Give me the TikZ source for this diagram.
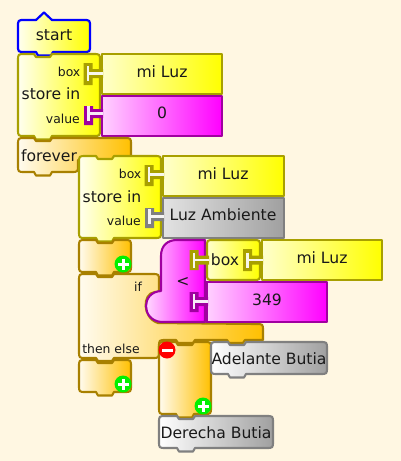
\documentclass[tikz,border=0pt]{standalone}
\usepackage{fontspec}
\setmainfont{DejaVu Sans}
\definecolor{bgc}{HTML}{FFF7E2}
\definecolor{oliv}{HTML}{A8A000}
\definecolor{brwn}{HTML}{A88000}
\definecolor{purp}{HTML}{A000A0}
\definecolor{gry}{HTML}{808080}
\definecolor{orng}{HTML}{FFC000}
\definecolor{magn}{HTML}{FF00FF}
\definecolor{yell}{HTML}{FFFF00}
\definecolor{gryf}{HTML}{A0A0A0}
\definecolor{grnn}{HTML}{00F000}
\tikzset{
  yblock/.style={left color=yell!6!white,right color=yell,draw=oliv,line width=2.1pt,line join=round},
  yval/.style={left color=yell!20!white,right color=yell,draw=oliv,line width=2.1pt,line join=round},
  oblock/.style={left color=orng!6!white,right color=orng,draw=brwn,line width=2.1pt,line join=round},
  mblock/.style={left color=magn!8!white,right color=magn,draw=purp,line width=2.1pt,line join=round},
  mval/.style={left color=magn!18!white,right color=magn,draw=purp,line width=2.1pt,line join=round},
  gblock/.style={left color=white,right color=gryf,draw=gry,line width=2.1pt,line join=round},
  gval/.style={left color=gryf!30!white,right color=gryf,draw=gry,line width=2.1pt,line join=round},
  sblock/.style={left color=yell!6!white,right color=yell,draw=blue,line width=2.2pt,line join=round},
  lab/.style={inner sep=0pt,font=\fontsize{15.6}{17}\selectfont,text=black!90},
  small/.style={inner sep=0pt,font=\fontsize{12.4}{14}\selectfont,text=black!90},
}
% rounded box with top notch and bottom tab; #2 left #3 top #4 right #5 bottom #6 notch start
\newcommand{\tabblock}[6]{%
  \path[#1] ({#6},#3) -- ({#6+2},{#3+3}) -- ({#6+16},{#3+3}) -- ({#6+18},#3)
    -- ({#4-7},#3) .. controls (#4,#3) .. (#4,{#3+7})
    -- (#4,{#5-7}) .. controls (#4,#5) .. ({#4-7},#5)
    -- ({#6+18},#5) -- ({#6+16},{#5+3.5}) -- ({#6+2},{#5+3.5}) -- ({#6},#5)
    -- ({#2+7},#5) .. controls (#2,#5) .. (#2,{#5-7})
    -- (#2,{#3+7}) .. controls (#2,#3) .. ({#2+7},#3) -- cycle;}
% socket: #1 dark colour, #2 left of dark, #3 top, #4 bottom, #5 centre y, #6 stem end
\newcommand{\socket}[6]{%
  \fill[#1] (#2,#3) -- ({#2+9},#3) -- ({#2+9},{#5-4.5}) -- (#6,{#5-4.5}) -- (#6,{#5+4.5})
    -- ({#2+9},{#5+4.5}) -- ({#2+9},#4) -- (#2,#4) -- cycle;
  \fill[white!92!#1] ({#2+3},{#5-7.5}) rectangle ({#2+5.6},{#5+7.5});
  \fill[white!92!#1] ({#2+3},{#5-1.3}) rectangle (#6,{#5+1.3});}
\begin{document}
\begin{tikzpicture}[x=1pt,y=-1pt]
\useasboundingbox (0,0) rectangle (401,461);
\fill[bgc] (0,0) rectangle (401,461);

% start
\path[sblock] (36,20) -- (44,12.5) -- (52,20) -- (83,20) .. controls (90,20) .. (90,27)
  -- (90,45) .. controls (90,52) .. (83,52) -- (53,52) -- (51,55.5) -- (38,55.5) -- (36,52)
  -- (25,52) .. controls (18,52) .. (18,45) -- (18,27) .. controls (18,20) .. (25,20) -- cycle;
\node[lab] (tstart) at (54,35) {start};

% first store in
\tabblock{yblock}{18}{54}{100}{136}{34}
\path[yval] (102,54) rectangle (222,94);
\path[mval] (102,96) rectangle (222,136);
\socket{oliv}{83.5}{63}{85}{73.5}{103}
\socket{purp}{84}{106}{125}{113.5}{103}
\node[small,anchor=base east] (tbox1) at (80.5,76) {box};
\node[small,anchor=base east] (tval1) at (80,123) {value};
\node[lab] (tstore1) at (51,94) {store in};
\node[lab] (tluz1) at (162,71.5) {mi Luz};
\node[lab] (tzero) at (162,113) {0};

% forever
\path[oblock] (34,138) -- (36,141) -- (50,141) -- (52,138) -- (124,138) .. controls (131,138) .. (131,145)
  -- (131,160) -- (78,160) -- (78,165) .. controls (78,172) .. (71,172)
  -- (52,172) -- (50,175.5) -- (36,175.5) -- (34,172) -- (25,172) .. controls (18,172) .. (18,165)
  -- (18,145) .. controls (18,138) .. (25,138) -- cycle;
\node[lab] (tforever) at (49,156) {forever};

% second store in
\tabblock{yblock}{79}{156}{161}{238}{96}
\path[yval] (163,156) rectangle (284,196);
\path[gval] (163,198) rectangle (284,238);
\socket{oliv}{144.5}{165}{186}{174.5}{164}
\socket{gry}{145}{208}{228}{216.5}{164}
\node[small,anchor=base east] (tbox2) at (141.5,178) {box};
\node[small,anchor=base east] (tval2) at (141,225) {value};
\node[lab] (tstore2) at (112,197) {store in};
\node[lab] (tluz2) at (223,173.5) {mi Luz};
\node[lab] (tamb) at (223,215) {Luz Ambiente};

% sandwich tops
\tabblock{oblock}{79}{240}{131}{272}{96}
\tabblock{oblock}{79}{360}{131}{392}{96}

% if
\path[oblock] (96,274) -- (98,277) -- (112,277) -- (114,274) -- (152,274) .. controls (159,274) .. (159,281)
  -- (159,292) -- (155,292) .. controls (142,293) and (142,318) .. (158,323)
  -- (256,324) .. controls (263,324) .. (263,331) -- (263,340)
  -- (245,340) -- (243,343) -- (229,343) -- (227,340)
  -- (195,340) -- (193,343) -- (178,343) -- (176,340)
  -- (166,340) .. controls (159,340) .. (159,347) -- (159,351) .. controls (159,358) .. (152,358)
  -- (114,358) -- (112,361) -- (98,361) -- (96,358) -- (86,358)
  .. controls (79,358) .. (79,351) -- (79,281) .. controls (79,274) .. (86,274) -- cycle;
\node[small] (tif) at (138,287) {if};
\node[small] (tthen) at (111,349) {then else};

% else column
\tabblock{oblock}{159}{342}{211}{414}{176}

% less-than block
\path[mblock] (177,240) -- (205,240) -- (205,322) -- (161,322) .. controls (141,320) and (141,292) .. (161,291)
  -- (161,256) .. controls (161,245) and (168,240) .. (177,240) -- cycle;
\path[mval] (206.5,282) rectangle (327,322);
\node[lab] (tnum) at (267,299.5) {349};
\node[lab] (tlt) at (183,282) {<};

% box block
\path[yval] (214,240) -- (253,240) .. controls (260,240) .. (260,247) -- (260,273) .. controls (260,280) .. (253,280)
  -- (214,280) .. controls (207,280) .. (207,273) -- (207,247) .. controls (207,240) .. (214,240) -- cycle;
\path[yval] (262,240) rectangle (382,280);
\socket{oliv}{189.5}{250}{270}{260}{209}
\socket{purp}{189.5}{292}{312}{301.5}{208}
\socket{oliv}{243}{249}{271}{260}{263}
\node[lab] (tbox3) at (225,259.5) {box};
\node[lab] (tluz3) at (322,257.5) {mi Luz};

% action blocks
\tabblock{gblock}{211}{342}{327}{374}{228}
\tabblock{gblock}{159}{416}{273}{448}{177}
\node[lab] (tadel) at (269,359) {Adelante Butia};
\node[lab] (tder) at (216,433) {Derecha Butia};

% plus and minus badges
\foreach \px/\py in {123/264,123/384,203/406}{
  \fill[grnn] (\px,\py) circle[radius=8.5];
  \fill[white] ({\px-5.5},{\py-1.5}) rectangle ({\px+5.5},{\py+1.5});
  \fill[white] ({\px-1.5},{\py-5.5}) rectangle ({\px+1.5},{\py+5.5});
}
\fill[red] (167,350) circle[radius=8.5];
\fill[white] (161.5,348.5) rectangle (172.5,351.5);
\end{tikzpicture}
\end{document}
